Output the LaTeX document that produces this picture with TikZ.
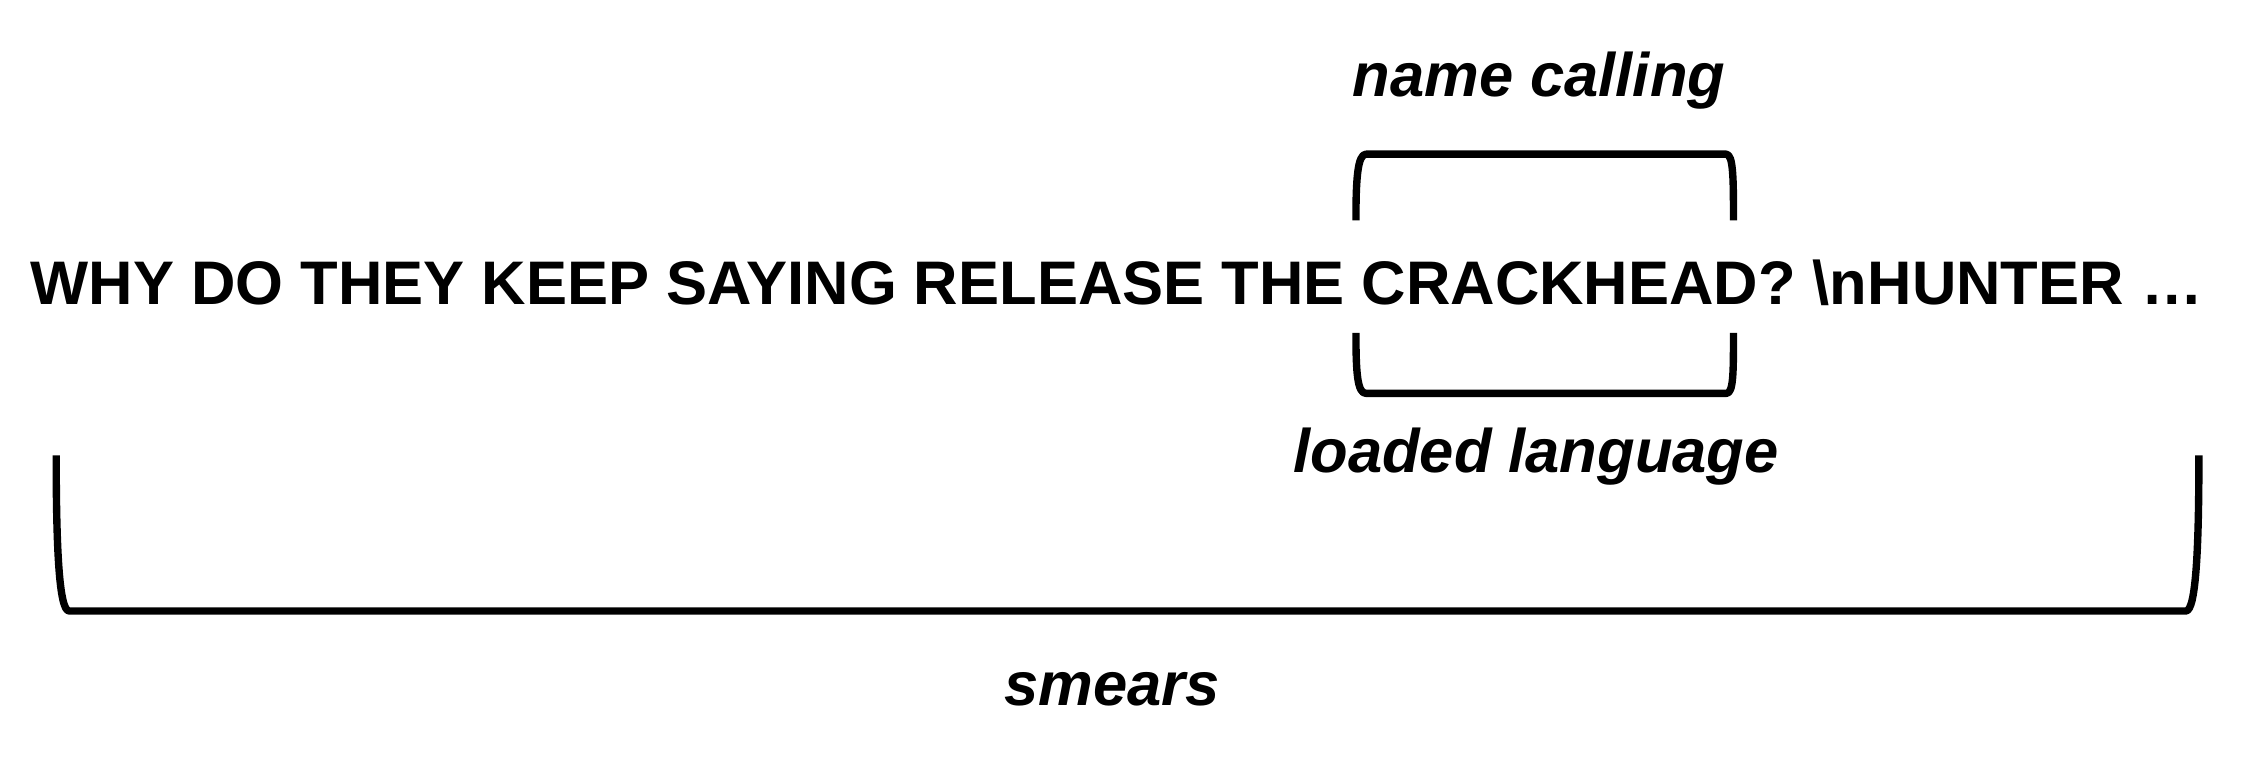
\documentclass[tikz,border=0pt]{standalone}
\usepackage{fontspec}
\setmainfont{Liberation Sans}
\begin{document}
\begin{tikzpicture}[x=0.01441cm,y=-0.01441cm,
  brk/.style={line width=2.1pt,line join=round},
  main/.style={font=\fontsize{17.5}{20}\selectfont\bfseries,inner sep=0pt},
  lab/.style={font=\fontsize{17.5}{20}\selectfont\bfseries\itshape,inner sep=0pt}]
\useasboundingbox (0,0) rectangle (1568.4,535.7);
\node[main] (t) at (775,196) {WHY DO THEY KEEP SAYING RELEASE THE CRACKHEAD? \textbackslash nHUNTER …};
\draw[brk] (941,153) .. controls (941,125) and (942,107) .. (948,107) -- (1198,107) .. controls (1203,107) and (1203,125) .. (1203,153);
\draw[brk] (941,231) .. controls (941,259) and (942,273) .. (948,273) -- (1198,273) .. controls (1203,273) and (1203,259) .. (1203,231);
\draw[brk] (39,316) .. controls (39,380) and (41,424) .. (48,424) -- (1517,424) .. controls (1524,424) and (1526,380) .. (1526,316);
\node[lab] (nc) at (1068,56) {name calling};
\node[lab] (ll) at (1066,317) {loaded language};
\node[lab] (sm) at (772,478) {smears};
\end{tikzpicture}
\end{document}
